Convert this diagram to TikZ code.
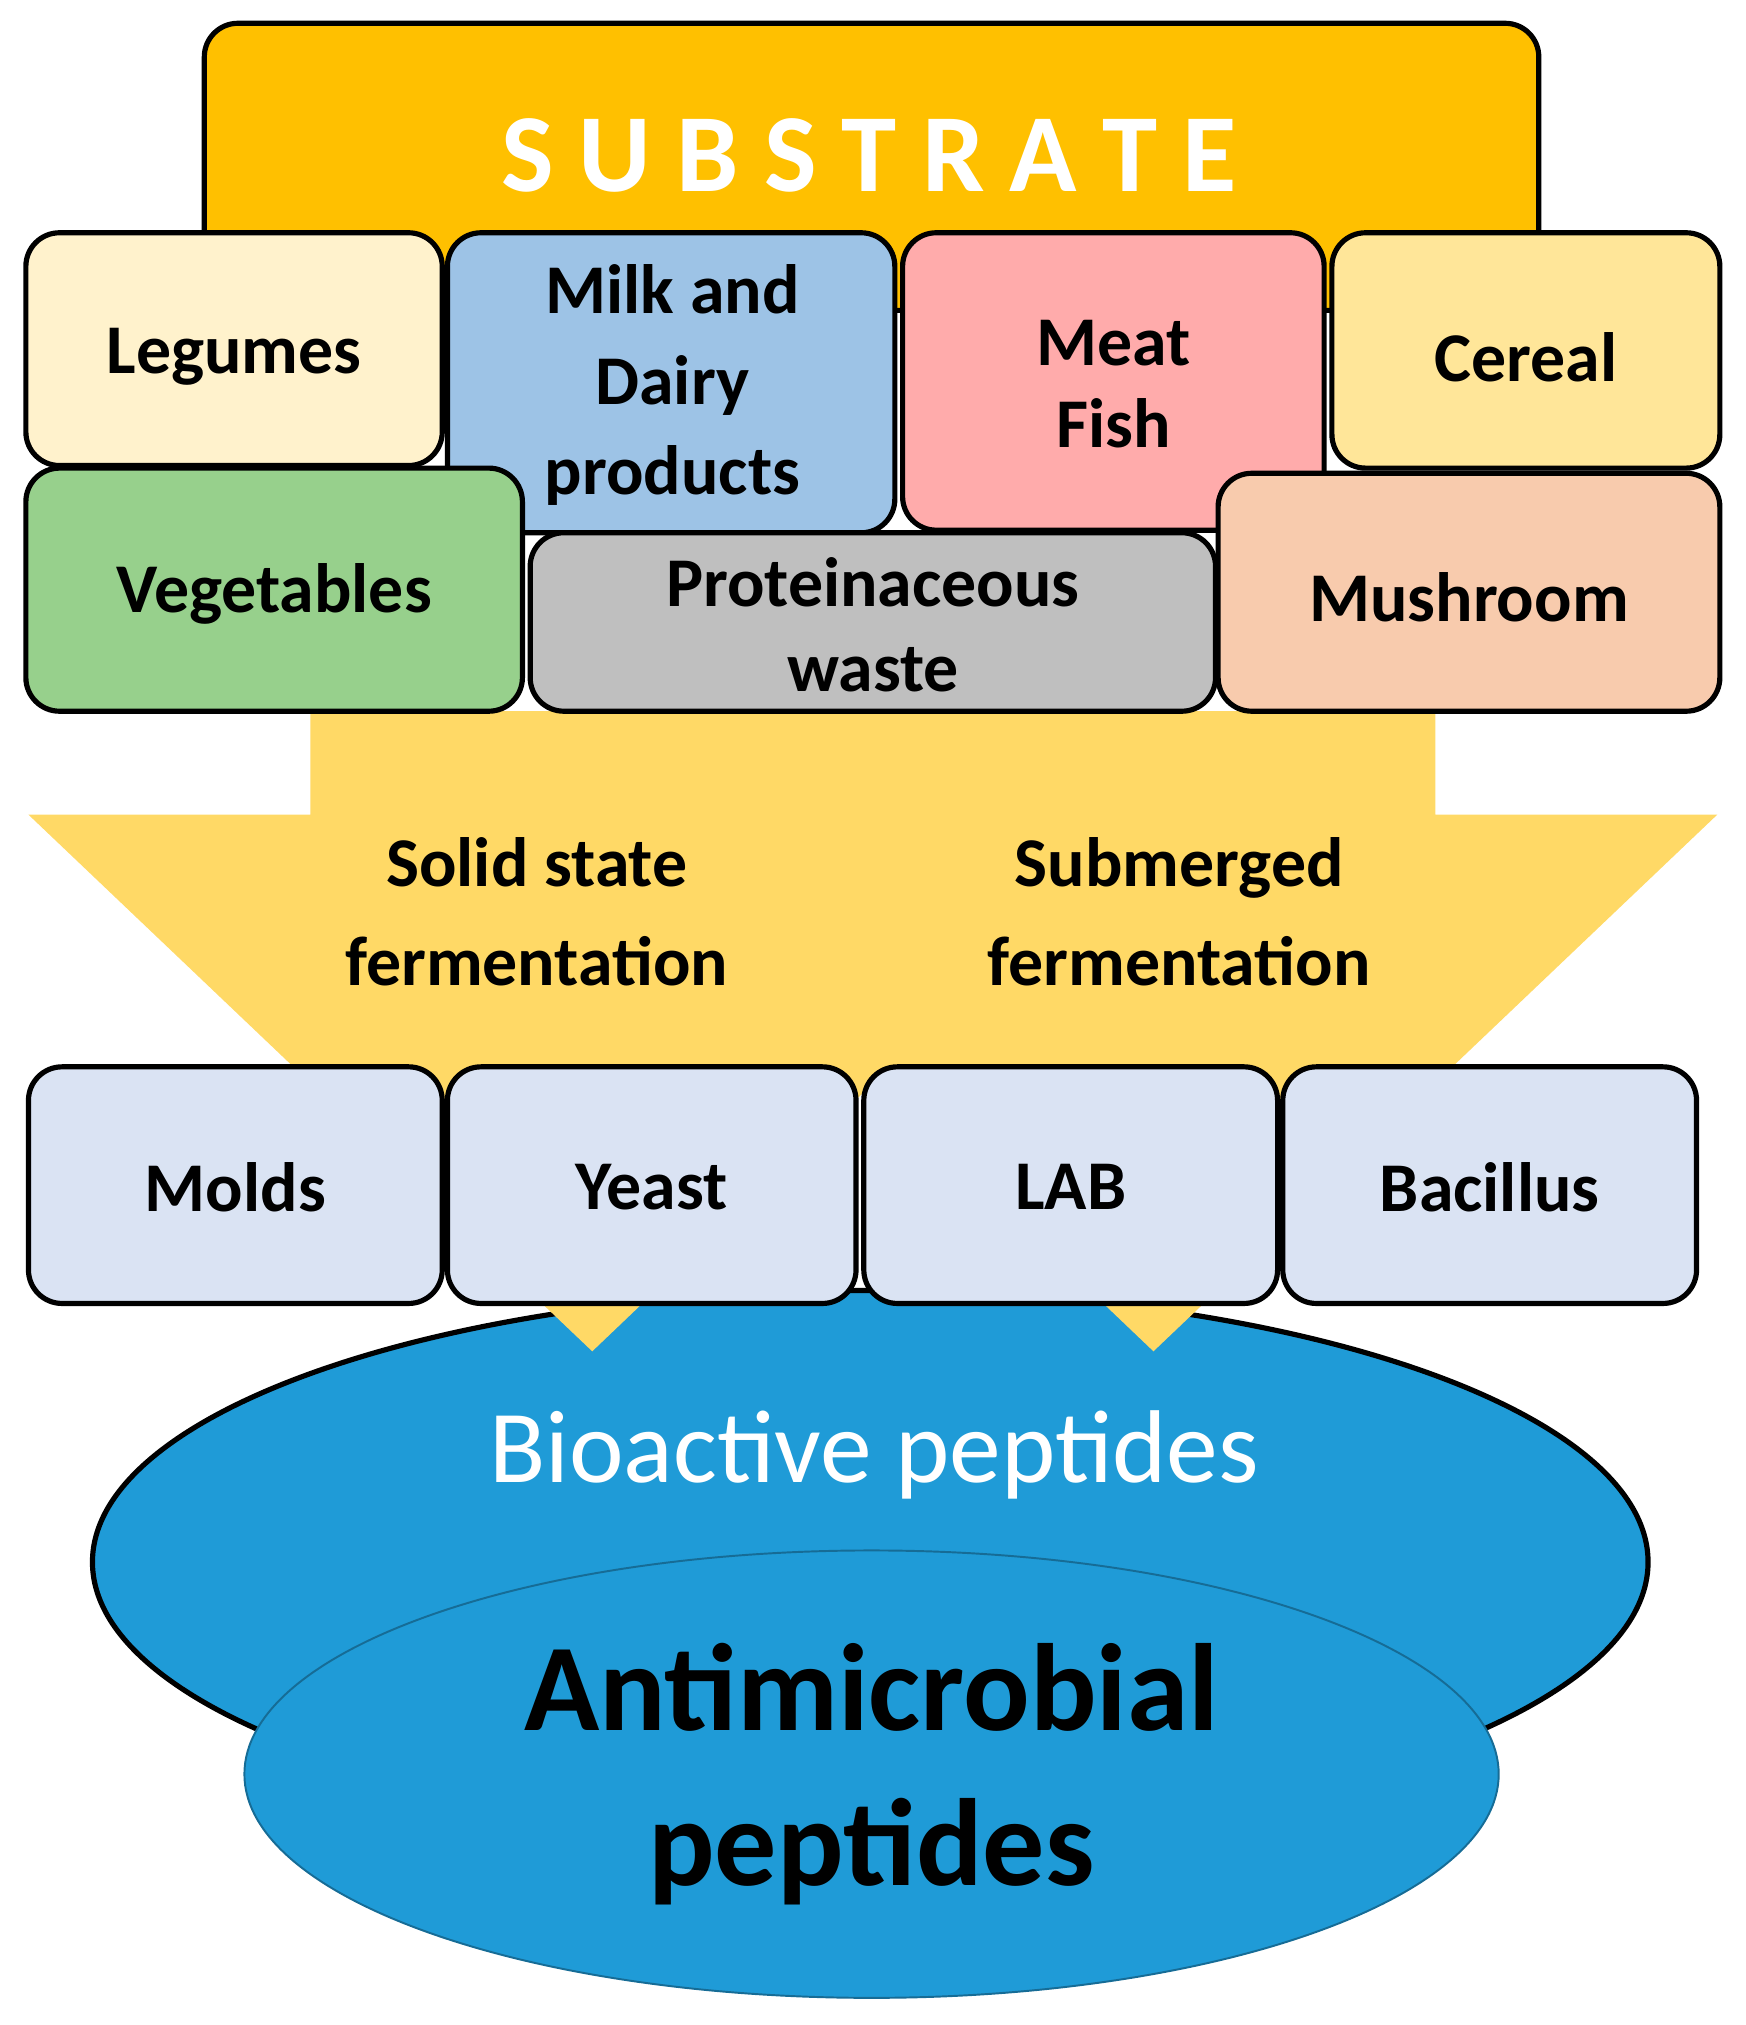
\documentclass[tikz,border=0pt]{standalone}
\usepackage{fontspec}
\setmainfont{Carlito}
\usetikzlibrary{shapes.geometric}
\definecolor{sub}{HTML}{FFC000}
\definecolor{arr}{HTML}{FFD966}
\definecolor{blu}{HTML}{1F9BD7}
\definecolor{mic}{HTML}{DAE3F3}
\definecolor{cleg}{HTML}{FFF2CC}
\definecolor{cmilk}{HTML}{9DC3E6}
\definecolor{cmeat}{HTML}{FFABAB}
\definecolor{ccer}{HTML}{FFE699}
\definecolor{cveg}{HTML}{97D08C}
\definecolor{cwas}{HTML}{BFBFBF}
\definecolor{cmus}{HTML}{F8CBAD}
\tikzset{
 fbox/.style={draw=black,line width=4pt,rounded corners=26pt},
 ftxt/.style={font=\bfseries\fontsize{54}{68}\selectfont,align=center},
}
\begin{document}
\begin{tikzpicture}[x=1pt,y=-1pt]
\useasboundingbox (0,0) rectangle (1350,1566);
% ellipses
\node[ellipse,draw=black,line width=4pt,fill=blu,minimum width=1203pt,minimum height=420pt] (bio) at (673,1208) {};
\node[ellipse,draw=blu!70!black,line width=1.5pt,fill=blu,minimum width=970pt,minimum height=346pt] (amp) at (674,1372) {};
\node[text=white,font=\fontsize{80}{90}\selectfont] (biot) at (676,1125) {Bioactive peptides};
\node[align=center,font=\bfseries\fontsize{96}{120}\selectfont] (ampt) at (674,1372) {Antimicrobial\\peptides};
% arrows
\fill[arr] (240,550)--(675,550)--(675,630)--(893,630)--(458,1045)--(22,630)--(240,630)--cycle;
\fill[arr] (675,550)--(1110,550)--(1110,630)--(1328,630)--(892,1045)--(457,630)--(675,630)--cycle;
\node[align=center,font=\bfseries\fontsize{54}{76}\selectfont] (ssf) at (415,705) {Solid state\\fermentation};
\node[align=center,font=\bfseries\fontsize{54}{76}\selectfont] (smf) at (912,705) {Submerged\\fermentation};
% microbes
\foreach \n/\a/\b/\t in {molds/22/342/Molds,yeast/346/662/Yeast,lab/668/988/LAB,bac/992/1312/Bacillus}{
 \draw[fbox,fill=mic] (\a,825) rectangle (\b,1008);
 \node[ftxt] (\n) at ({(\a+\b)/2},918) {\t};}
% substrate
\draw[fbox,fill=sub] (158,18) rectangle (1190,240);
\node[text=white,font=\bfseries\fontsize{86}{90}\selectfont] (subt) at (672,120) {S U B S T R A T E};
\draw[fbox,fill=cleg] (20,180) rectangle (342,360);
\node[ftxt] (leg) at (181,276) {Legumes};
\draw[fbox,fill=ccer] (1030,180) rectangle (1330,362);
\node[ftxt] (cer) at (1180,276) {Cereal};
\draw[fbox,fill=cmeat] (698,180) rectangle (1024,410);
\node[ftxt,font=\bfseries\fontsize{54}{64}\selectfont] (meat) at (861,297) {Meat\\Fish};
\draw[fbox,fill=cmilk] (346,180) rectangle (692,412);
\node[ftxt,font=\bfseries\fontsize{54}{70}\selectfont] (milk) at (520,298) {Milk and\\Dairy\\products};
\draw[fbox,fill=cveg] (20,362) rectangle (404,550);
\node[ftxt] (veg) at (212,459) {Vegetables};
\draw[fbox,fill=cwas] (410,412) rectangle (940,550);
\node[ftxt,font=\bfseries\fontsize{54}{66}\selectfont] (was) at (675,483) {Proteinaceous\\waste};
\draw[fbox,fill=cmus] (942,366) rectangle (1330,550);
\node[ftxt] (mus) at (1136,462) {Mushroom};
\end{tikzpicture}
\end{document}
